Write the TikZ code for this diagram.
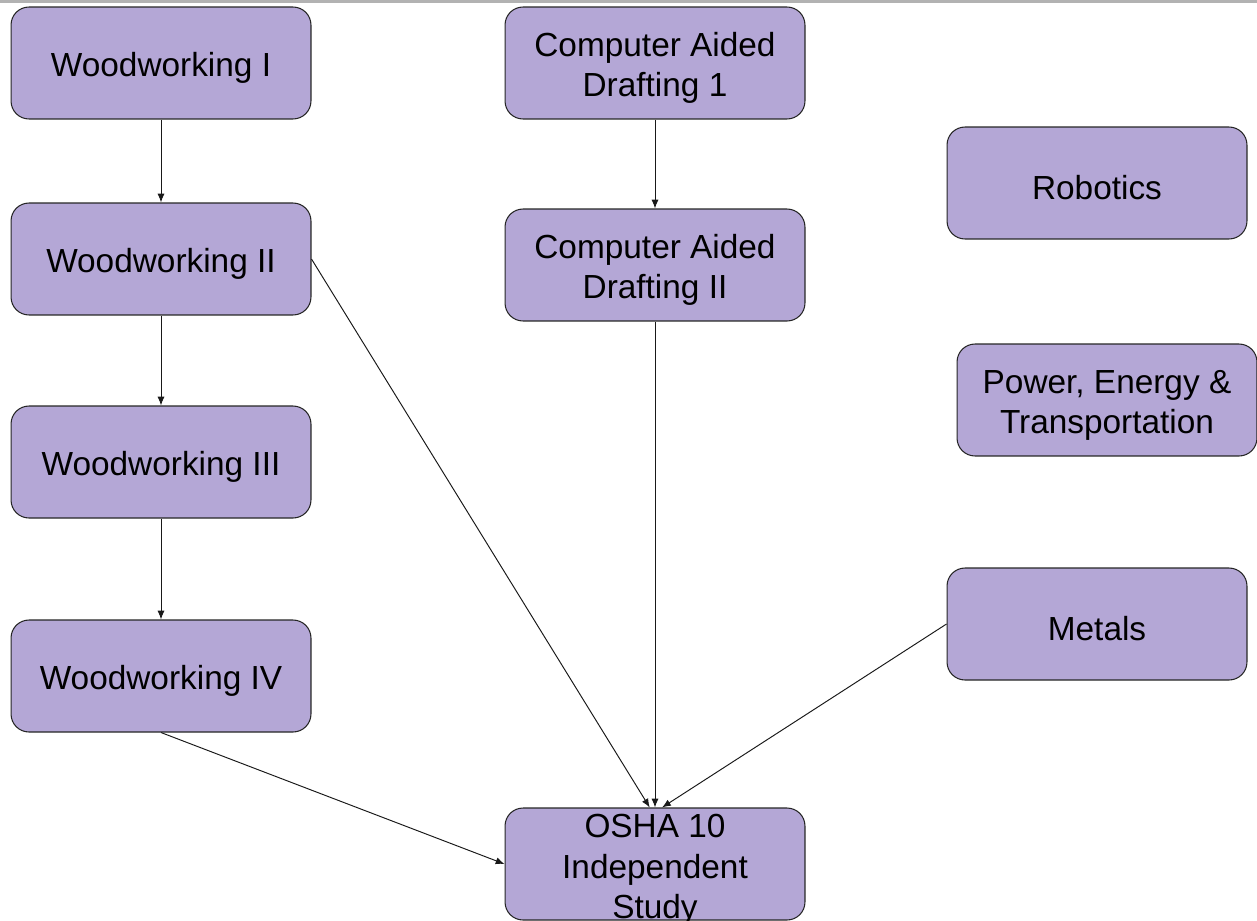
\documentclass[tikz,border=0pt]{standalone}
\usepackage{fontspec}
\setmainfont{Liberation Sans}
\usepackage{xcolor}
\usepackage{tikz}
\usetikzlibrary{arrows.meta}
\definecolor{course}{HTML}{B4A7D6}
\newcommand{\lift}{\rule{0pt}{19pt}}

\begin{document}
\begin{tikzpicture}[x=0.02cm, y=-0.02cm,
    course/.style={draw=black!85, fill=course, line width=0.6pt, rounded corners=0.36cm,
        minimum width=6cm, minimum height=2.24cm, inner sep=0pt, align=center,
        font=\fontsize{19}{23}\selectfont},
    link/.style={-{Latex[length=5pt, width=4pt]}, line width=0.55pt, black!90}]
    \useasboundingbox (0,0) rectangle (1257,920);
    \fill[black!30] (0,0) rectangle (1257,2.5);
    % Woodworking column
    \node[course] (ww1) at (161,63) {\lift Woodworking I};
    \node[course] (ww2) at (161,259) {\lift Woodworking II};
    \node[course] (ww3) at (161,462) {\lift Woodworking III};
    \node[course] (ww4) at (161,676) {\lift Woodworking IV};
    % Drafting column
    \node[course] (cad1) at (655,63) {\lift Computer Aided\\Drafting 1};
    \node[course] (cad2) at (655,265) {\lift Computer Aided\\Drafting II};
    \node[course] (osha) at (655,864) {\rule{0pt}{16pt}OSHA 10\\Independent\\\smash{Study}};
    % Other courses
    \node[course] (robot) at (1097,183) {\lift Robotics};
    \node[course] (power) at (1107,400) {\lift Power, Energy \&\\Transportation};
    \node[course] (metal) at (1097,624) {\lift Metals};
    % Arrows
    \draw[link] (ww1) -- (ww2);
    \draw[link] (ww2) -- (ww3);
    \draw[link] (ww3) -- (ww4);
    \draw[link] (cad1) -- (cad2);
    \draw[link] (cad2) -- (osha);
    \draw[link] (ww2.east) -- ([xshift=-3]osha.north);
    \draw[link] (metal.west) -- ([xshift=4]osha.north);
    \draw[link] (ww4.south) -- (osha.west);
\end{tikzpicture}
\end{document}
